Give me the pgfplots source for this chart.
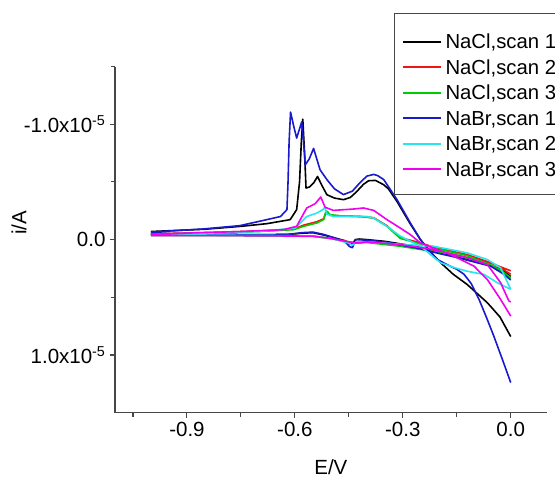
\documentclass[border=0pt]{standalone}
\usepackage{pgfplots}
\pgfplotsset{compat=1.18}
\usepackage{fontspec}
\setmainfont{Liberation Sans}
\newcommand\tickfont{\fontsize{20.5}{24}\selectfont}
\newcommand\legfont{\fontsize{20.3}{24}\selectfont}
\definecolor{cRed}{RGB}{240,20,20}
\definecolor{cGreen}{RGB}{0,205,0}
\definecolor{cBlue}{RGB}{25,25,205}
\definecolor{cCyan}{RGB}{40,230,240}
\definecolor{cMag}{RGB}{240,0,240}
\definecolor{axgray}{RGB}{70,70,70}
\begin{document}
\begin{tikzpicture}
\useasboundingbox (0,0) rectangle (555pt,477pt);
\clip (0,0) rectangle (555pt,477pt);
\begin{axis}[
  at={(115pt,64.3pt)}, anchor=south west,
  width=431.7pt, height=346.2pt, scale only axis,
  xmin=-1.1, xmax=0.1, ymin=-1.5, ymax=1.5,
  y dir=reverse,
  axis x line=bottom, axis y line=left,
  axis line style={-, draw=axgray, line width=1.1pt},
  tick style={draw=axgray, line width=1.1pt},
  tick align=outside,
  major tick length=5pt, minor tick length=4pt,
  xtick={-0.9,-0.6,-0.3,0},
  xticklabels={-0.9,-0.6,-0.3,0.0},
  minor xtick={-1.05,-0.75,-0.45,-0.15},
  ytick={-1,0,1},
  yticklabels={-1.0x10\textsuperscript{-5},0.0,1.0x10\textsuperscript{-5}},
  minor ytick={-1.5,-0.5,0.5},
  ticklabel style={font=\tickfont},
  xticklabel style={yshift=-1pt},
  yticklabel style={xshift=-1pt},
  xlabel={E/V}, ylabel={i/A},
  label style={font=\tickfont, inner sep=0pt},
  xlabel style={at={(axis description cs:0.5,-0.156)}, anchor=center},
  ylabel style={at={(axis description cs:-0.222,0.548)}, anchor=center, rotate=0},
  unbounded coords=jump,
  every axis plot/.append style={line width=1.6pt, line join=round},
  legend cell align=left,
  legend image code/.code={\draw[#1, line width=1.6pt] (0pt,-1.3pt) -- (37.6pt,-1.3pt);},
  legend style={at={(axis description cs:0.647,1.1537)}, anchor=north west,
    draw=axgray, line width=0.8pt, fill=white,
    inner xsep=7.4pt, inner ysep=14.8pt, row sep=1.6pt, column sep=4.2pt,
    nodes={inner sep=0pt, text height=20.4pt, text depth=3.5pt, font=\legfont}},
]
% NaCl scan 1
\addplot[black] coordinates {
(-1.0,-0.05) (-0.9,-0.048) (-0.8,-0.045) (-0.7,-0.042) (-0.62,-0.045) (-0.58,-0.055) (-0.55,-0.06) (-0.52,-0.04) (-0.49,-0.015) (-0.46,0.01) (-0.445,0.04) (-0.438,0.03) (-0.432,0.0) (-0.42,-0.005) (-0.4,0.0) (-0.35,0.015) (-0.3,0.04) (-0.25,0.07) (-0.2,0.11) (-0.15,0.15) (-0.1,0.19) (-0.05,0.23) (-0.02,0.27) (0,0.32)
(0,inf)
(0,0.84) (-0.03,0.67) (-0.065,0.547) (-0.121,0.389) (-0.16,0.3) (-0.195,0.2) (-0.225,0.1) (-0.251,0.0) (-0.28,-0.14) (-0.316,-0.33) (-0.34,-0.44) (-0.353,-0.475) (-0.376,-0.513) (-0.395,-0.51) (-0.409,-0.48) (-0.43,-0.41) (-0.446,-0.365) (-0.465,-0.346) (-0.49,-0.36) (-0.511,-0.389) (-0.525,-0.47) (-0.537,-0.547) (-0.548,-0.49) (-0.56,-0.455) (-0.569,-0.447) (-0.573,-0.75) (-0.578,-1.043) (-0.582,-0.85) (-0.587,-0.5) (-0.595,-0.26) (-0.613,-0.173) (-0.678,-0.138) (-0.75,-0.115) (-0.85,-0.09) (-1.0,-0.07)
};
\addlegendentry{NaCl,scan 1\hspace*{10pt}}
% NaCl scan 2
\addplot[cRed] coordinates {
(-1.0,-0.04) (-0.8,-0.038) (-0.65,-0.035) (-0.55,-0.03) (-0.5,-0.01) (-0.45,0.02) (-0.43,0.03) (-0.4,0.02) (-0.3,0.05) (-0.2,0.1) (-0.1,0.17) (-0.05,0.21) (0,0.27)
(0,inf)
(0,0.30) (-0.047,0.21) (-0.121,0.13) (-0.214,0.065) (-0.26,0.02) (-0.307,-0.015) (-0.344,-0.12) (-0.381,-0.19) (-0.418,-0.2) (-0.47,-0.205) (-0.502,-0.21) (-0.509,-0.235) (-0.513,-0.245) (-0.52,-0.18) (-0.539,-0.155) (-0.576,-0.125) (-0.604,-0.09) (-0.7,-0.075) (-0.8,-0.065) (-1.0,-0.05)
};
\addlegendentry{NaCl,scan 2}
% NaCl scan 3
\addplot[cGreen] coordinates {
(-1.0,-0.035) (-0.8,-0.035) (-0.65,-0.032) (-0.55,-0.028) (-0.5,-0.01) (-0.45,0.02) (-0.43,0.03) (-0.4,0.025) (-0.307,0.058) (-0.2,0.11) (-0.167,0.125) (-0.074,0.2) (-0.03,0.26) (0,0.33)
(0,inf)
(0,0.346) (-0.047,0.23) (-0.121,0.14) (-0.214,0.072) (-0.26,0.03) (-0.307,-0.01) (-0.344,-0.115) (-0.381,-0.187) (-0.418,-0.2) (-0.47,-0.205) (-0.502,-0.216) (-0.509,-0.24) (-0.513,-0.25) (-0.52,-0.173) (-0.539,-0.144) (-0.576,-0.115) (-0.604,-0.086) (-0.7,-0.07) (-0.8,-0.06) (-1.0,-0.045)
};
\addlegendentry{NaCl,scan 3}
% NaBr scan 1
\addplot[cBlue] coordinates {
(-1.0,-0.055) (-0.9,-0.05) (-0.8,-0.045) (-0.7,-0.042) (-0.62,-0.045) (-0.58,-0.06) (-0.55,-0.065) (-0.52,-0.045) (-0.49,-0.015) (-0.46,0.02) (-0.448,0.06) (-0.44,0.07) (-0.435,0.03) (-0.43,0.0) (-0.4,0.005) (-0.35,0.02) (-0.3,0.05) (-0.25,0.08) (-0.2,0.12) (-0.15,0.155) (-0.1,0.195) (-0.056,0.23) (-0.019,0.3) (0,0.35)
(0,inf)
(0,1.239) (-0.023,1.04) (-0.047,0.836) (-0.068,0.67) (-0.088,0.519) (-0.11,0.38) (-0.13,0.3) (-0.149,0.259) (-0.175,0.22) (-0.204,0.173) (-0.225,0.1) (-0.251,0.0) (-0.279,-0.144) (-0.316,-0.346) (-0.353,-0.52) (-0.37,-0.555) (-0.381,-0.565) (-0.40,-0.55) (-0.42,-0.49) (-0.44,-0.42) (-0.465,-0.39) (-0.49,-0.44) (-0.511,-0.52) (-0.53,-0.605) (-0.548,-0.79) (-0.56,-0.7) (-0.571,-0.648) (-0.576,-0.85) (-0.581,-1.02) (-0.588,-0.95) (-0.595,-0.88) (-0.603,-0.98) (-0.612,-1.105) (-0.616,-0.85) (-0.619,-0.5) (-0.622,-0.26) (-0.64,-0.2) (-0.678,-0.173) (-0.753,-0.121) (-0.855,-0.092) (-1.0,-0.065)
};
\addlegendentry{NaBr,scan 1}
% NaBr scan 2
\addplot[cCyan] coordinates {
(-1.0,-0.04) (-0.8,-0.038) (-0.65,-0.035) (-0.55,-0.03) (-0.5,-0.01) (-0.45,0.03) (-0.44,0.05) (-0.43,0.02) (-0.4,0.02) (-0.307,0.04) (-0.214,0.058) (-0.121,0.115) (-0.065,0.173) (-0.028,0.245) (0,0.43)
(0,inf)
(0,0.432) (-0.037,0.374) (-0.074,0.302) (-0.121,0.274) (-0.16,0.24) (-0.195,0.2) (-0.251,0.058) (-0.307,-0.03) (-0.344,-0.115) (-0.381,-0.187) (-0.4,-0.2) (-0.493,-0.2) (-0.505,-0.215) (-0.511,-0.22) (-0.517,-0.28) (-0.522,-0.26) (-0.539,-0.23) (-0.567,-0.2) (-0.585,-0.144) (-0.6,-0.1) (-0.7,-0.07) (-0.85,-0.055) (-1.0,-0.045)
};
\addlegendentry{NaBr,scan 2}
% NaBr scan 3
\addplot[cMag] coordinates {
(-1.0,-0.035) (-0.8,-0.035) (-0.65,-0.032) (-0.55,-0.03) (-0.5,-0.01) (-0.45,0.02) (-0.43,0.03) (-0.4,0.02) (-0.307,0.043) (-0.214,0.086) (-0.121,0.158) (-0.065,0.216) (-0.028,0.374) (-0.005,0.533) (0,0.54)
(0,inf)
(0,0.663) (-0.028,0.519) (-0.065,0.346) (-0.102,0.23) (-0.167,0.13) (-0.251,0.029) (-0.279,-0.043) (-0.307,-0.1) (-0.344,-0.173) (-0.381,-0.253) (-0.409,-0.274) (-0.437,-0.265) (-0.493,-0.253) (-0.516,-0.28) (-0.528,-0.369) (-0.544,-0.31) (-0.567,-0.274) (-0.585,-0.173) (-0.595,-0.115) (-0.632,-0.086) (-0.75,-0.07) (-0.864,-0.06) (-1.0,-0.045)
};
\addlegendentry{NaBr,scan 3}
\end{axis}
\end{tikzpicture}
\end{document}
